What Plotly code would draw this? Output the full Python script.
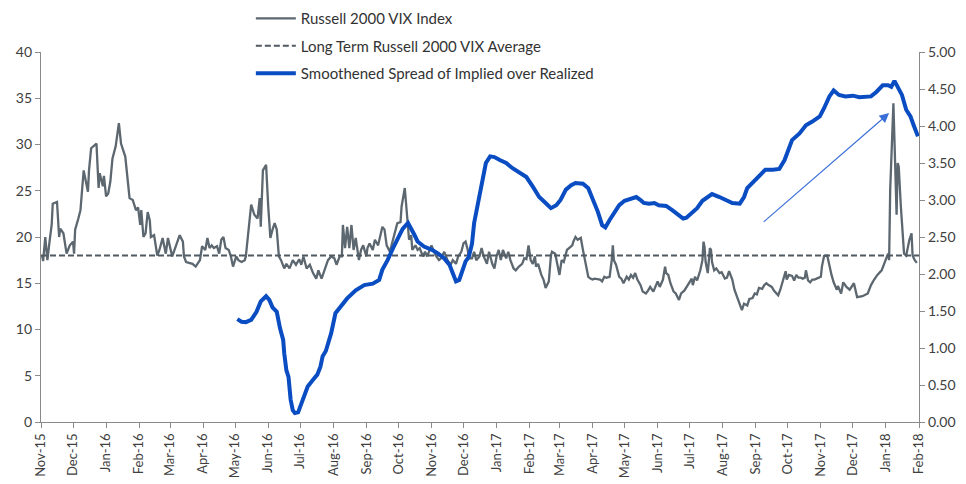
import plotly.graph_objects as go

# ---------------- data ----------------
vix_dates = [
    "2015-11-02","2015-11-03","2015-11-05","2015-11-07","2015-11-09","2015-11-11","2015-11-12","2015-11-16",
    "2015-11-18","2015-11-19","2015-11-22","2015-11-25","2015-11-28","2015-12-01","2015-12-02","2015-12-03",
    "2015-12-06","2015-12-08","2015-12-11","2015-12-12","2015-12-15","2015-12-16","2015-12-18","2015-12-23",
    "2015-12-25","2015-12-26","2015-12-29","2015-12-30","2016-01-01","2016-01-03","2016-01-05","2016-01-07",
    "2016-01-10","2016-01-13","2016-01-15","2016-01-19","2016-01-23","2016-01-26","2016-01-29","2016-01-31",
    "2016-02-02","2016-02-03","2016-02-05","2016-02-07","2016-02-09","2016-02-11","2016-02-12","2016-02-15",
    "2016-02-18","2016-02-20","2016-02-23","2016-02-26","2016-02-28","2016-03-03","2016-03-05","2016-03-10",
    "2016-03-13","2016-03-14","2016-03-16","2016-03-22","2016-03-25","2016-03-29","2016-03-31","2016-04-03",
    "2016-04-05","2016-04-07","2016-04-09","2016-04-11","2016-04-14","2016-04-16","2016-04-18","2016-04-20",
    "2016-04-22","2016-04-25","2016-04-27","2016-04-29","2016-05-02","2016-05-04","2016-05-07","2016-05-10",
    "2016-05-11","2016-05-13","2016-05-16","2016-05-19","2016-05-22","2016-05-24","2016-05-25","2016-05-27",
    "2016-05-30","2016-06-01","2016-06-03","2016-06-05","2016-06-07","2016-06-09","2016-06-11","2016-06-13",
    "2016-06-16","2016-06-18","2016-06-21","2016-06-24","2016-06-27","2016-06-30","2016-07-02","2016-07-04",
    "2016-07-07","2016-07-10","2016-07-13","2016-07-16","2016-07-18","2016-07-21","2016-07-24","2016-07-27",
    "2016-07-30","2016-08-02","2016-08-04","2016-08-07","2016-08-09","2016-08-10","2016-08-12","2016-08-14",
    "2016-08-16","2016-08-18","2016-08-20","2016-08-22","2016-08-25","2016-08-27","2016-08-29","2016-09-01",
    "2016-09-02","2016-09-04","2016-09-07","2016-09-09","2016-09-12","2016-09-14","2016-09-16","2016-09-18",
    "2016-09-20","2016-09-23","2016-09-25","2016-09-28","2016-09-30","2016-10-03","2016-10-04","2016-10-07",
    "2016-10-08","2016-10-10","2016-10-11","2016-10-13","2016-10-14","2016-10-17","2016-10-19","2016-10-21",
    "2016-10-24","2016-10-26","2016-10-28","2016-11-01","2016-11-03","2016-11-05","2016-11-08","2016-11-10",
    "2016-11-13","2016-11-16","2016-11-19","2016-11-21","2016-11-24","2016-11-26","2016-11-29","2016-12-01",
    "2016-12-03","2016-12-05","2016-12-06","2016-12-09","2016-12-11","2016-12-13","2016-12-16","2016-12-18",
    "2016-12-20","2016-12-23","2016-12-25","2016-12-28","2016-12-30","2017-01-01","2017-01-03","2017-01-05",
    "2017-01-07","2017-01-10","2017-01-12","2017-01-14","2017-01-17","2017-01-19","2017-01-22","2017-01-25",
    "2017-01-27","2017-01-29","2017-01-31","2017-02-02","2017-02-04","2017-02-06","2017-02-07","2017-02-09",
    "2017-02-12","2017-02-14","2017-02-16","2017-02-19","2017-02-21","2017-02-22","2017-02-25","2017-02-27",
    "2017-03-01","2017-03-03","2017-03-05","2017-03-08","2017-03-10","2017-03-13","2017-03-14","2017-03-16",
    "2017-03-18","2017-03-20","2017-03-21","2017-03-23","2017-03-25","2017-03-28","2017-03-30","2017-04-01",
    "2017-04-03","2017-04-06","2017-04-08","2017-04-10","2017-04-12","2017-04-14","2017-04-17","2017-04-19",
    "2017-04-20","2017-04-21","2017-04-23","2017-04-26","2017-04-28","2017-04-30","2017-05-03","2017-05-05",
    "2017-05-07","2017-05-09","2017-05-11","2017-05-13","2017-05-16","2017-05-18","2017-05-21","2017-05-23",
    "2017-05-25","2017-05-28","2017-05-30","2017-06-01","2017-06-03","2017-06-06","2017-06-08","2017-06-09",
    "2017-06-11","2017-06-13","2017-06-16","2017-06-18","2017-06-21","2017-06-23","2017-06-26","2017-06-28",
    "2017-07-01","2017-07-03","2017-07-04","2017-07-06","2017-07-08","2017-07-11","2017-07-13","2017-07-14",
    "2017-07-15","2017-07-16","2017-07-18","2017-07-20","2017-07-21","2017-07-22","2017-07-24","2017-07-26",
    "2017-07-29","2017-07-31","2017-08-03","2017-08-05","2017-08-07","2017-08-10","2017-08-12","2017-08-14",
    "2017-08-17","2017-08-19","2017-08-21","2017-08-24","2017-08-26","2017-08-29","2017-08-31","2017-09-02",
    "2017-09-04","2017-09-07","2017-09-09","2017-09-11","2017-09-13","2017-09-16","2017-09-18","2017-09-20",
    "2017-09-22","2017-09-24","2017-09-27","2017-09-29","2017-09-30","2017-10-02","2017-10-05","2017-10-07",
    "2017-10-09","2017-10-11","2017-10-13","2017-10-15","2017-10-17","2017-10-18","2017-10-20","2017-10-22",
    "2017-10-24","2017-10-26","2017-10-28","2017-10-30","2017-11-01","2017-11-02","2017-11-04","2017-11-07",
    "2017-11-09","2017-11-11","2017-11-13","2017-11-16","2017-11-17","2017-11-20","2017-11-22","2017-11-25",
    "2017-11-28","2017-12-02","2017-12-05","2017-12-10","2017-12-15","2017-12-18","2017-12-21","2017-12-24",
    "2017-12-28","2017-12-31","2018-01-03","2018-01-04","2018-01-05","2018-01-08","2018-01-11","2018-01-12",
    "2018-01-13","2018-01-15","2018-01-18","2018-01-20","2018-01-23","2018-01-25","2018-01-26","2018-01-28",
    "2018-01-30",
]
vix_values = [
    18.0,17.4,20.0,17.5,19.5,21.3,23.6,23.8,
    20.0,20.9,20.4,18.2,19.1,19.5,18.2,20.8,
    22.0,22.9,27.2,26.7,24.9,27.2,29.6,30.1,
    25.3,26.9,25.5,26.6,24.4,24.7,26.0,28.5,
    29.8,32.3,30.1,28.7,24.2,24.0,22.9,23.2,
    21.3,22.9,20.0,20.4,22.7,21.8,20.0,20.2,
    18.0,18.6,19.9,18.2,19.9,17.9,18.6,20.2,
    19.5,17.9,17.3,17.1,16.8,17.5,19.0,18.6,
    19.9,18.8,19.1,18.8,19.0,18.2,19.7,20.0,
    18.8,18.6,17.9,16.8,17.9,17.5,17.3,17.5,
    17.9,20.4,23.5,22.4,22.0,24.2,21.1,27.2,
    27.8,23.3,19.9,20.8,21.5,20.8,17.9,17.5,
    16.6,17.1,16.6,17.5,17.0,17.6,17.0,17.9,
    16.6,17.0,16.1,15.5,16.4,15.5,16.6,17.5,
    17.9,17.7,17.0,17.9,17.9,21.3,18.8,21.1,
    18.8,21.3,18.6,19.9,17.5,18.6,19.1,17.9,
    18.8,19.3,18.6,19.7,19.1,20.0,21.1,20.8,
    19.1,18.4,19.3,20.6,21.5,21.6,23.3,25.3,
    24.1,21.6,19.7,20.2,18.6,19.1,18.6,18.8,
    17.9,18.4,17.9,19.1,18.6,18.0,17.5,17.7,
    18.4,17.5,17.0,17.5,17.1,17.9,18.4,19.3,
    19.5,18.6,17.7,17.7,18.4,17.5,17.9,18.8,
    17.9,17.1,18.4,17.1,16.6,17.9,18.6,17.5,
    18.6,17.7,18.4,17.5,16.6,16.4,16.8,17.1,
    17.7,17.6,19.1,17.5,17.1,17.9,16.8,17.1,
    15.9,15.4,14.5,15.2,18.0,18.4,18.2,17.0,
    15.9,17.5,17.3,18.6,18.8,19.1,19.5,20.0,
    19.7,19.9,19.9,18.6,17.5,15.7,15.5,15.4,
    15.5,15.4,15.4,15.2,15.7,15.6,15.7,17.5,
    19.1,17.5,17.0,15.7,15.5,15.0,15.7,15.4,
    15.9,15.6,16.1,15.4,14.8,14.1,13.9,14.2,
    14.6,14.1,14.6,15.2,14.6,15.4,16.8,16.1,
    15.9,15.0,14.1,13.9,13.2,13.9,14.2,14.6,
    15.2,15.5,14.8,15.7,15.3,16.4,17.5,19.5,
    18.9,17.3,16.1,18.8,18.6,17.3,16.4,16.6,
    16.1,16.2,15.5,15.6,16.3,15.4,14.3,13.7,
    12.8,12.1,12.8,12.6,13.3,13.4,13.9,13.8,
    14.5,14.4,14.8,15.0,14.8,14.6,14.2,13.9,
    13.7,14.3,15.5,16.3,15.4,15.9,15.8,15.3,
    15.9,15.6,15.6,15.5,15.6,16.4,15.3,15.1,
    15.4,15.4,15.5,15.6,15.7,16.8,17.95,18.0,
    16.8,15.9,15.1,14.3,14.7,13.9,15.1,14.6,
    14.3,15.0,13.5,13.6,13.9,14.8,15.4,15.9,
    16.4,17.2,18.2,17.5,25.1,34.45,22.4,28.0,
    27.6,23.3,18.2,18.0,19.7,20.4,18.0,17.5,
    17.2,
]

avg_dates = ["2015-11-01", "2018-02-01"]
avg_values = [18.0, 18.0]

spread_dates = [
    "2016-05-03","2016-05-07","2016-05-11","2016-05-16","2016-05-21","2016-05-25","2016-05-30","2016-06-02",
    "2016-06-05","2016-06-09","2016-06-12","2016-06-15","2016-06-16","2016-06-18","2016-06-20","2016-06-22",
    "2016-06-24","2016-06-26","2016-06-29","2016-07-02","2016-07-05","2016-07-08","2016-07-13","2016-07-17",
    "2016-07-20","2016-07-22","2016-07-25","2016-07-30","2016-08-03","2016-08-08","2016-08-14","2016-08-22",
    "2016-08-30","2016-09-07","2016-09-13","2016-09-16","2016-09-21","2016-09-26","2016-09-30","2016-10-05",
    "2016-10-10","2016-10-13","2016-10-16","2016-10-19","2016-10-25","2016-11-01","2016-11-07","2016-11-13",
    "2016-11-18","2016-11-21","2016-11-24","2016-11-27","2016-11-30","2016-12-03","2016-12-06","2016-12-09",
    "2016-12-11","2016-12-13","2016-12-16","2016-12-19","2016-12-22","2016-12-26","2016-12-30","2017-01-04",
    "2017-01-10","2017-01-16","2017-01-21","2017-01-25","2017-01-29","2017-02-04","2017-02-10","2017-02-16",
    "2017-02-21","2017-02-26","2017-03-02","2017-03-07","2017-03-12","2017-03-16","2017-03-23","2017-03-28",
    "2017-04-01","2017-04-06","2017-04-10","2017-04-13","2017-04-17","2017-04-20","2017-04-23","2017-04-26",
    "2017-05-01","2017-05-07","2017-05-12","2017-05-16","2017-05-19","2017-05-24","2017-05-29","2017-06-02",
    "2017-06-09","2017-06-15","2017-06-20","2017-06-25","2017-06-28","2017-07-04","2017-07-08","2017-07-13",
    "2017-07-18","2017-07-22","2017-07-29","2017-08-04","2017-08-10","2017-08-17","2017-08-21","2017-08-24",
    "2017-08-29","2017-09-04","2017-09-10","2017-09-17","2017-09-23","2017-09-28","2017-10-01","2017-10-05",
    "2017-10-12","2017-10-18","2017-10-24","2017-10-31","2017-11-04","2017-11-09","2017-11-13","2017-11-18",
    "2017-11-24","2017-12-01","2017-12-07","2017-12-14","2017-12-18","2017-12-23","2017-12-29","2018-01-03",
    "2018-01-06","2018-01-09","2018-01-12","2018-01-16","2018-01-20","2018-01-24","2018-01-27","2018-01-31",
]
spread_values = [
    1.39,1.355,1.35,1.38,1.49,1.63,1.70,1.65,
    1.55,1.49,1.27,1.11,0.93,0.70,0.61,0.30,
    0.16,0.12,0.13,0.25,0.36,0.48,0.57,0.64,
    0.75,0.89,0.96,1.20,1.47,1.56,1.67,1.78,
    1.85,1.87,1.92,2.06,2.19,2.35,2.48,2.61,
    2.69,2.62,2.53,2.44,2.37,2.33,2.28,2.21,
    2.12,2.01,1.90,1.92,2.05,2.17,2.23,2.41,
    2.69,2.84,3.04,3.23,3.50,3.59,3.58,3.54,
    3.50,3.43,3.38,3.35,3.31,3.18,3.04,2.96,
    2.89,2.93,3.00,3.14,3.20,3.23,3.22,3.16,
    3.02,2.84,2.66,2.63,2.73,2.80,2.86,2.93,
    2.99,3.02,3.04,3.00,2.96,2.95,2.96,2.93,
    2.92,2.86,2.80,2.75,2.76,2.84,2.89,2.99,
    3.04,3.08,3.04,3.00,2.96,2.95,3.04,3.16,
    3.23,3.31,3.41,3.41,3.42,3.54,3.65,3.81,
    3.90,4.01,4.06,4.13,4.24,4.40,4.48,4.42,
    4.40,4.41,4.39,4.39,4.40,4.46,4.55,4.55,
    4.53,4.61,4.53,4.42,4.22,4.13,4.01,3.86,
]

series_names = [
    "Russell 2000 VIX Index",
    "Long Term Russell 2000 VIX Average",
    "Smoothened Spread of Implied over Realized",
]

arrow_start = ("2017-09-07", 21.5)
arrow_end = ("2018-01-04", 33.4)

left_ticks = [0, 5, 10, 15, 20, 25, 30, 35, 40]
right_ticks = [0, 0.5, 1.0, 1.5, 2.0, 2.5, 3.0, 3.5, 4.0, 4.5, 5.0]

# ---------------- styles ----------------
GRAY = "#5c6770"
BLUE = "#0a4cc2"
AXIS = "#8a8a8a"
TXT = "#404040"
FONT = "Lato, 'Open Sans', sans-serif"

fig = go.Figure()
fig.add_trace(go.Scatter(
    x=vix_dates, y=vix_values, mode="lines", name=series_names[0],
    line=dict(color=GRAY, width=2.3), legendgroup="a",
))
fig.add_trace(go.Scatter(
    x=avg_dates, y=avg_values, mode="lines", name=series_names[1],
    line=dict(color="#4f5a63", width=2, dash="6px,3px"), legendgroup="b",
))
fig.add_trace(go.Scatter(
    x=spread_dates, y=spread_values, mode="lines", name=series_names[2],
    line=dict(color=BLUE, width=4), yaxis="y2", legendgroup="c",
))

fig.add_annotation(
    x=arrow_end[0], y=arrow_end[1], ax=arrow_start[0], ay=arrow_start[1],
    xref="x", yref="y", axref="x", ayref="y",
    text="", showarrow=True, arrowhead=2, arrowsize=1.6, arrowwidth=1.2,
    arrowcolor="#3a6fd8",
)

# the page places the figure 8px from the top-left corner
fig.update_layout(
    width=958, height=476,
    margin=dict(l=33, r=47, t=44, b=62, autoexpand=False),
    paper_bgcolor="white", plot_bgcolor="white",
    font=dict(family=FONT, size=13, color=TXT),
    showlegend=True,
    legend=dict(
        x=0.239, y=1.135, xanchor="left", yanchor="top",
        bgcolor="rgba(0,0,0,0)", font=dict(size=15, color="#333333"),
        tracegroupgap=5, itemwidth=40,
    ),
    xaxis=dict(
        type="date", range=["2015-11-01", "2018-02-01"],
        tickformat="%b-%y", dtick="M1", tick0="2015-11-01",
        tickangle=-90, ticks="outside", ticklen=5, tickcolor=AXIS,
        showline=True, linecolor=AXIS, linewidth=1.3,
        showgrid=False, zeroline=False, automargin=False,
        tickfont=dict(size=13, color=TXT),
    ),
    yaxis=dict(
        range=[0, 40], tickvals=left_ticks, ticks="outside", ticklen=5,
        tickcolor=AXIS, showline=True, linecolor=AXIS, linewidth=1.3,
        showgrid=False, zeroline=False, automargin=False,
        tickfont=dict(size=14, color=TXT),
    ),
    yaxis2=dict(
        range=[0, 5], tickvals=right_ticks, tickformat=".2f",
        overlaying="y", side="right", ticks="outside", ticklen=5,
        tickcolor=AXIS, showline=True, linecolor=AXIS, linewidth=1.3,
        showgrid=False, zeroline=False, automargin=False,
        tickfont=dict(size=14, color=TXT),
    ),
)

fig.write_html("out.html")
